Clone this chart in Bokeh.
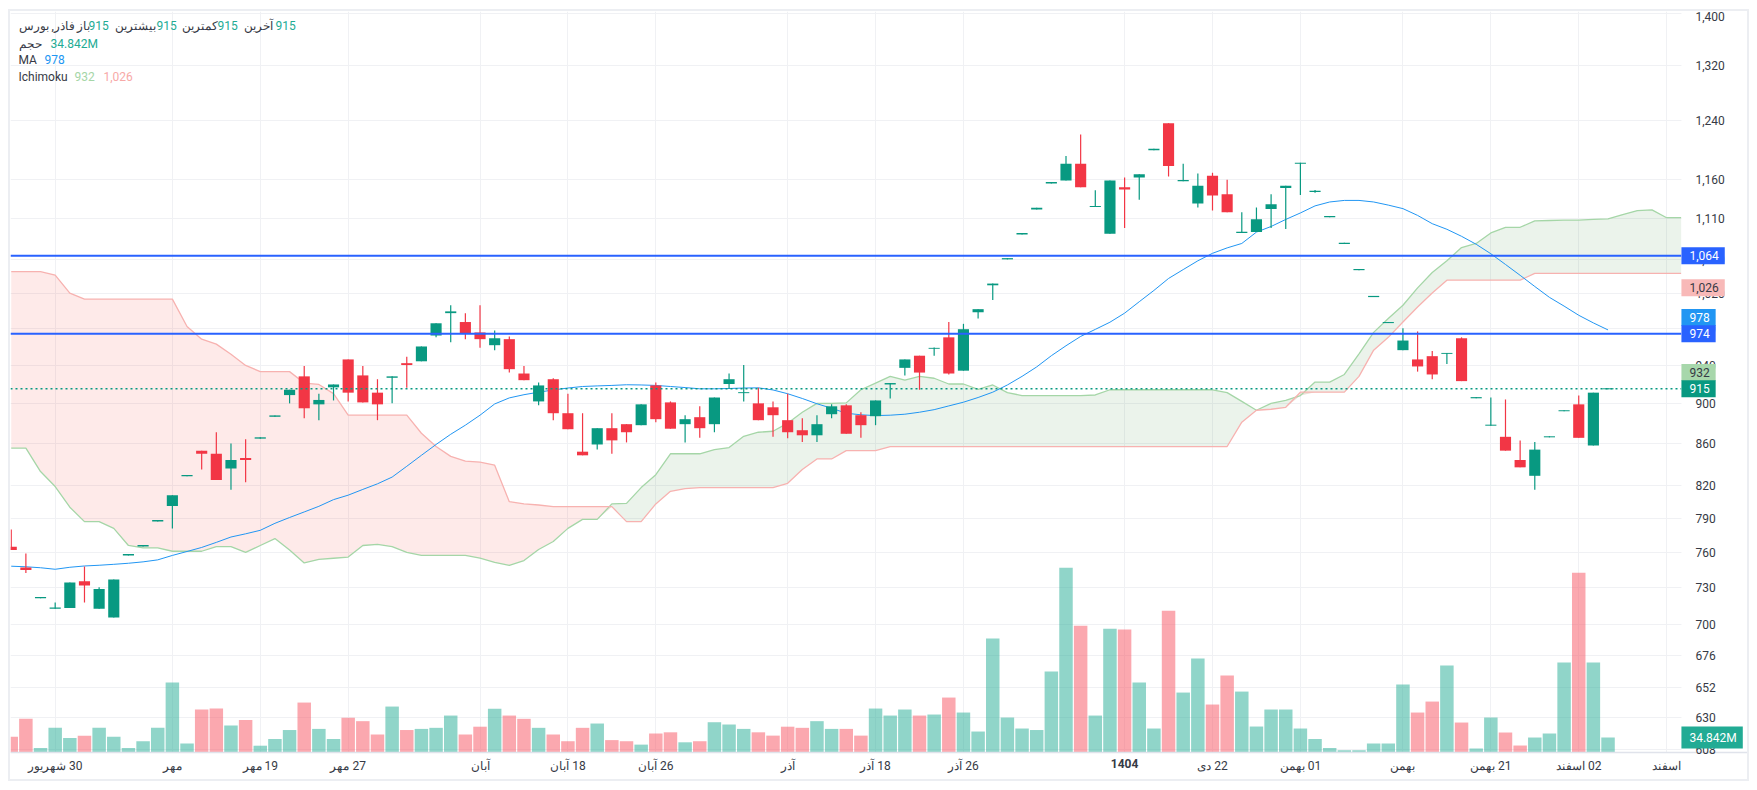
import numpy as np
from bokeh.embed import file_html
from bokeh.models import FixedTicker, Label, LinearAxis, LinearScale, Range1d
from bokeh.plotting import figure
from bokeh.resources import INLINE

GREEN = "#089981"
RED = "#f23645"
TEXT = "#363a45"
GRID = "#f0f1f4"
FONT = "Roboto"

opens = [765, 747, 721.4, 713, 713.5, 735.5, 713, 706, 757.3, 765.2,
         787.2, 801, 828.5, 853, 850, 836, 846, 864.7, 886.4, 908.5,
         928, 899, 916.5, 946, 929, 911, 926.5, 942, 944, 972,
         997, 987, 975.4, 961.4, 968, 931, 902, 925, 890, 852,
         859, 875, 879, 878, 918.5, 901, 879, 886, 879, 920,
         910.5, 900, 896, 883, 873, 868, 889, 898, 888, 887,
         919.5, 937, 950, 957.5, 970, 934, 998, 1029, 1059.7, 1090,
         1121.5, 1155, 1159, 1181, 1124.5, 1091, 1150, 1163, 1199.5, 1236.5,
         1158, 1129, 1165, 1141, 1092, 1093, 1122, 1149, 1181, 1144,
         1111.5, 1078.5, 1046.8, 1015.3, 985.8, 956, 946, 949.5, 952, 969,
         905.2, 877.5, 866.5, 844, 829, 866, 892, 899, 858, 914.5]
highs = [780, 759, 722.6, 718, 734.5, 748, 730.5, 737, 758.6, 766.5,
         788.5, 811, 829.8, 853, 871, 860, 864, 866, 887.8, 914,
         939, 910, 919.5, 946, 939, 925, 928, 949, 960, 985.6,
         1006, 997, 1006, 977.6, 971, 939, 921.6, 926, 910, 890,
         875, 890, 879, 899, 921.6, 902, 888, 897, 906, 931,
         940, 916, 902, 910, 885, 888, 899, 899, 891, 903,
         921, 946, 950, 959, 987, 985, 1001.5, 1031, 1061.2, 1092,
         1123.5, 1157, 1191.5, 1221, 1146, 1159, 1163, 1167, 1201.5, 1236.5,
         1181, 1168, 1169, 1160, 1118, 1124, 1141, 1152, 1182.5, 1146.5,
         1113, 1080, 1048.2, 1016.7, 987, 980, 976.5, 955, 953, 970,
         906.4, 906, 904, 863, 861.5, 867, 893, 908, 911, 915.5]
lows = [762, 742.5, 721.4, 713, 713.5, 718, 713, 706, 757.3, 765.2,
        787.2, 781, 828.5, 835, 825, 816, 823, 864.7, 886.4, 900,
        885, 883, 903, 902, 901, 883, 900, 916, 944, 970,
        964.5, 968, 958.6, 956, 932, 924, 898, 883, 874, 848.5,
        854, 850, 861, 878, 881, 874.5, 861, 865.5, 871, 915,
        902, 883, 866.5, 865, 861.5, 861.5, 885, 869.5, 865.5, 878,
        905, 929, 914, 950, 930, 934, 991, 1012, 1059.7, 1090,
        1121.5, 1155, 1159, 1150, 1124.5, 1091, 1098, 1134, 1199.5, 1164,
        1158, 1124, 1120, 1118, 1092, 1093, 1098, 1097, 1140, 1143,
        1111.5, 1078.5, 1046.8, 1015.3, 985.8, 956, 933, 925, 941, 923,
        905.2, 877.5, 853, 837, 816, 866, 892, 865.5, 858, 914.5]
closes = [762, 745, 722.6, 714, 734.5, 732, 729, 737, 758.6, 766.5,
          788.5, 811, 829.8, 850, 825, 844, 844, 866, 887.8, 914,
          895, 903.5, 919.5, 911, 901, 899, 928, 940, 960, 985.6,
          999, 974, 968, 969, 935.6, 924, 918.5, 890, 874, 848.5,
          875, 863, 871, 899, 884, 874.5, 884, 875, 906, 925,
          911.5, 883, 888, 871, 868, 879, 897, 869.5, 878, 903,
          921, 946, 932, 958.5, 931, 979, 1001.5, 1031, 1061.2, 1092,
          1123.5, 1157, 1181, 1150, 1126, 1159, 1147, 1167, 1201.5, 1178,
          1159.5, 1152, 1139.5, 1118, 1093.5, 1109, 1128, 1152, 1182.5, 1145.5,
          1113, 1080, 1048.2, 1016.7, 987, 966.5, 938.5, 930, 953, 923,
          906.4, 878.5, 853, 837, 854, 867, 893, 865.5, 911, 915.5]
# volume in millions
volumes = [36.7, 78.2, 10.4, 57.3, 33.9, 39.2, 57.3, 36.7, 10.4, 26.2,
           57.3, 162.4, 20.9, 99.8, 102.1, 62.6, 75.6, 15.8, 31.3, 52.2,
           116, 54.8, 31.3, 80.7, 72.8, 41.8, 106.7, 52.2, 54.8, 57.3,
           85.8, 41.8, 59.9, 101.6, 85.8, 78.2, 57.3, 41.8, 26.2, 57.3,
           67.3, 28.8, 26.2, 18.3, 44.1, 46.9, 23.7, 26.2, 70.3, 65,
           54.8, 46.9, 39.2, 59.9, 57.3, 72.8, 54.8, 54.8, 39.2, 102.1,
           85.8, 99.8, 85.8, 88.2, 127.6, 92.8, 48.7, 264.5, 81.2, 55.7,
           52.2, 187.9, 429.2, 294.6, 85.8, 287.7, 285.4, 162.4, 55.7, 329.4,
           139.2, 218.1, 111.4, 178.6, 141.5, 60.3, 99.8, 99.8, 55.7, 31.3,
           10.4, 5.3, 5.3, 20.9, 20.9, 157.8, 92.8, 118.3, 201.8, 69.6,
           9.3, 81.2, 46.4, 16.2, 34.8, 44.1, 208.8, 417.6, 208.8, 34.842]
ma = [748.2, 747.7, 746.9, 745.6, 747.3, 748.4, 749, 749.8, 750.7, 751.9,
      753.6, 757.4, 760.8, 764.3, 768.7, 773.4, 776.2, 779.3, 785.5, 790.7,
      795.7, 800.8, 806.9, 811, 816.3, 821.5, 827.8, 838, 848.5, 859,
      869, 878, 888, 899.4, 905.6, 908.9, 911.5, 913.8, 915.8, 917.4,
      918, 918.5, 919.2, 919, 918.5, 917.4, 916.3, 915, 915, 915.3,
      915.8, 916, 913.8, 909.9, 905, 899.6, 895, 890, 888.4, 887.6,
      888, 889, 891, 893.6, 897.4, 901.2, 906, 911.5, 919, 928,
      938, 950, 960.8, 971, 978.8, 986.8, 997, 1010, 1023, 1037,
      1047.5, 1058, 1067, 1073.6, 1079, 1093, 1100, 1108.8, 1117, 1126,
      1131, 1133, 1133, 1131, 1127, 1122.5, 1113.9, 1103.5, 1096.5, 1087.8,
      1078, 1066.5, 1053.6, 1040.7, 1027.6, 1015, 1005, 994.6, 986, 978.2]
span_a = [855.4, 855.4, 833, 819, 800, 787, 787, 781, 766, 764,
          764, 761, 761, 761, 765, 765, 760, 766, 772, 762,
          751, 754, 755, 756, 766, 767, 765, 760, 757.5, 757.5,
          757.5, 757.5, 755, 751.5, 749, 753, 762.5, 769.5, 781, 789,
          789, 803, 803.5, 818, 830, 850, 850, 850, 854, 856,
          867, 871, 872, 880, 891, 900, 900, 900.5, 914, 921,
          928, 924, 928, 926, 920, 920, 914.5, 919, 911, 908,
          908, 908, 908, 908, 908.6, 914, 914, 914, 914, 914,
          914, 914, 914, 911, 902, 893, 900, 903, 908, 922,
          922, 930, 952, 975.5, 991, 1006, 1026, 1044, 1058, 1074,
          1079, 1092, 1099, 1099, 1107, 1107.5, 1108, 1108, 1109, 1109.5,
          1115, 1120, 1121, 1111, 1111]
span_b = [1045, 1045, 1045, 1041, 1020, 1013, 1013, 1013, 1013, 1013,
          1013, 1013, 982, 968, 962.6, 951.5, 939.6, 933, 933, 933,
          921, 919.5, 910, 888, 888, 888, 888, 888, 870, 857,
          847.5, 843, 842, 839, 805, 803, 802, 800.5, 800.5, 800.5,
          800.5, 800.5, 787, 787, 803, 814.5, 817, 818, 818, 818,
          818, 818, 818, 822, 835, 845, 845, 853, 853, 853,
          857, 857, 857, 857, 857, 857, 857, 857, 857, 857,
          857, 857, 857, 857, 857, 857, 857, 857, 857, 857,
          857, 857, 857, 857, 881, 893, 894, 896, 911.5, 911.5,
          911.5, 911.5, 928, 956, 970, 987, 1004, 1020, 1035, 1035,
          1035, 1035, 1035, 1035, 1043, 1043, 1043, 1043, 1043, 1043,
          1043, 1043, 1043, 1043, 1043]
# horizontal levels: blue drawn lines, last price
levels = [1064, 974]
last_price = 915
ma_last = 978
cloud_a_last = 932
cloud_b_last = 1026
last_volume = 34.842

price_ticks = [608, 630, 652, 676, 700, 730, 760, 790, 820, 860, 900, 940,
               980, 1020, 1060, 1110, 1160, 1240, 1320, 1400]
time_ticks = [3, 11, 17, 23, 32, 38, 44, 53, 59, 65, 82, 88, 95, 101, 107, 113]
# the RLM keeps the day number on the right of the month name
time_labels = ["\u200f30 شهریور", "مهر", "\u200f19 مهر", "\u200f27 مهر", "آبان",
               "\u200f18 آبان", "\u200f26 آبان", "آذر", "\u200f18 آذر", "\u200f26 آذر",
               "\u200f22 دی", "\u200f01 بهمن", "بهمن", "\u200f21 بهمن",
               "\u200f02 اسفند", "اسفند"]
year_tick = 76
year_label = "1404"

X_START = -0.05
PANE_END = 114.01   # right edge of the chart pane, price axis sits here
X_END = 118.52
PANE_FLOOR = 605.6  # bottom edge of the chart pane, time axis sits here
Y_LOW = 587.4
Y_HIGH = 1403.8
MA_TAG_Y = 992      # the axis pushes the 978 tag up so it clears the 974 one

# price pane is a log scale, volume sits on its own linear range.
# Frame runs on under both axes so the tags and the bold year are not clipped.
p = figure(width=1737, height=768, y_axis_type="log", y_axis_location="right",
           x_range=Range1d(X_START, X_END), y_range=Range1d(Y_LOW, Y_HIGH),
           output_backend="svg", toolbar_location=None, title=None, margin=(11, 0, 0, 10),
           min_border_left=0, min_border_right=0, min_border_top=0, min_border_bottom=0,
           styles={"outline": "2px solid #eceef2"})
p.extra_y_ranges = {"vol": Range1d(-62.7, 1721)}
p.extra_y_scales = {"vol": LinearScale()}
p.outline_line_color = None

p.yaxis.fixed_location = PANE_END
p.yaxis.ticker = FixedTicker(ticks=price_ticks)
p.yaxis.major_label_overrides = {t: f"{t:,}" for t in price_ticks}
p.yaxis.axis_line_color = None
p.yaxis.major_tick_line_color = None
p.yaxis.minor_tick_line_color = None
p.yaxis.major_label_standoff = 8
p.yaxis.major_label_text_font = FONT
p.yaxis.major_label_text_font_size = "12px"
p.yaxis.major_label_text_color = TEXT

p.xaxis.fixed_location = PANE_FLOOR
p.xaxis.ticker = FixedTicker(ticks=time_ticks)
p.xaxis.major_label_overrides = dict(zip(time_ticks, time_labels))
p.xaxis.axis_line_color = "#e0e3eb"
p.xaxis.axis_line_width = 1.5
p.xaxis.major_tick_line_color = None
p.xaxis.minor_tick_line_color = None
p.xaxis.major_label_standoff = 0
p.xaxis.major_label_text_font = FONT
p.xaxis.major_label_text_font_size = "12px"
p.xaxis.major_label_text_color = TEXT

# the year tick is bold, so it gets its own axis on top of the time axis
year_axis = LinearAxis(ticker=FixedTicker(ticks=[year_tick]),
                       major_label_overrides={year_tick: year_label},
                       fixed_location=PANE_FLOOR, axis_line_color=None,
                       major_tick_line_color=None, minor_tick_line_color=None,
                       major_label_standoff=0, major_label_text_font=FONT,
                       major_label_text_font_size="12px", major_label_text_font_style="bold",
                       major_label_text_color=TEXT)
p.add_layout(year_axis, "below")

p.xgrid.ticker = FixedTicker(ticks=sorted(time_ticks + [year_tick]))
p.ygrid.ticker = FixedTicker(ticks=price_ticks)
p.grid.grid_line_color = GRID
p.grid.grid_line_width = 1

# ichimoku cloud, red where span b is on top and green where span a is
a = np.array(span_a)
b = np.array(span_b)
cloud_x = np.arange(len(a))
low_edge = np.minimum(a, b)
p.varea(cloud_x, y1=b, y2=low_edge, fill_color="#f44336", fill_alpha=0.11)
p.varea(cloud_x, y1=a, y2=low_edge, fill_color="#388e3c", fill_alpha=0.1)
p.line(cloud_x, a, line_color="#a5d6a7", line_width=1.3)
p.line(cloud_x, b, line_color="#f7b2b0", line_width=1.3)

x = np.arange(len(closes))
is_up = np.array(closes) >= np.array(opens)
bar_colors = [GREEN if up else RED for up in is_up]
vol_colors = ["#22ab94" if up else "#f7525f" for up in is_up]

p.vbar(x, top=volumes, bottom=0, width=0.92, fill_color=vol_colors, fill_alpha=0.5,
       line_color=None, y_range_name="vol")
p.line(x, ma, line_color="#2196f3", line_width=1)

p.segment(x, lows, x, highs, line_color=bar_colors, line_width=1.2)
p.vbar(x, top=np.maximum(opens, closes), bottom=np.minimum(opens, closes), width=0.76,
       fill_color=bar_colors, line_color=None)

for level in levels:
    p.line([X_START, PANE_END], [level, level], line_color="#2962ff", line_width=2)
p.line([X_START, PANE_END], [last_price, last_price], line_color=GREEN, line_width=1.4,
       line_dash=[2, 3])

# white strips under the axis labels hide the grid there
p.quad(left=PANE_END, right=X_END, bottom=Y_LOW, top=Y_HIGH, fill_color="white", line_color=None)
p.quad(left=X_START, right=X_END, bottom=Y_LOW, top=PANE_FLOOR, fill_color="white", line_color=None)

# price tags on the axis, padding order here is left, right, top, bottom
tags = [(levels[0], "1,064", "#2962ff", "white"), (cloud_b_last, "1,026", "#f8b9b8", TEXT),
        (MA_TAG_Y, "978", "#2196f3", "white"), (levels[1], "974", "#2962ff", "white"),
        (cloud_a_last, "932", "#a7d7ab", TEXT), (last_price, "915", GREEN, "white")]
for price, txt, bg, fg in tags:
    p.add_layout(Label(x=PANE_END, y=price, text=txt, text_font=FONT, text_font_size="12px",
                       text_color=fg, text_baseline="middle", background_fill_color=bg,
                       padding=(8, 6, 4, 4)))
p.add_layout(Label(x=PANE_END, y=last_volume, y_range_name="vol", text="34.842M",
                   text_font=FONT, text_font_size="12px", text_color="white",
                   text_baseline="middle", background_fill_color="#22ab94",
                   padding=(8, 6, 4, 4)))

# legend block, placed piece by piece so the mixed scripts stay in order
legend = [
    (8, 754, "فاذر, بورس", TEXT), (66, 754, "باز", TEXT), (78, 754, "915", "#22ab94"),
    (104, 754, "بیشترین", TEXT), (146, 754, "915", "#22ab94"),
    (171, 754, "کمترین", TEXT), (207, 754, "915", "#22ab94"),
    (233, 754, "آخرین", TEXT), (265, 754, "915", "#22ab94"),
    (8, 736, "حجم", TEXT), (40, 736, "34.842M", "#22ab94"),
    (8, 720, "MA", TEXT), (34, 720, "978", "#2196f3"),
    (8, 703, "Ichimoku", TEXT), (64, 703, "932", "#a5d6a7"), (93, 703, "1,026", "#f7a9a7"),
]
for lx, ly, txt, col in legend:
    p.add_layout(Label(x=lx, y=ly, x_units="screen", y_units="screen", text=txt,
                       text_font=FONT, text_font_size="12px", text_color=col,
                       text_baseline="middle"))

open("out.html", "w").write(file_html(p, INLINE))
